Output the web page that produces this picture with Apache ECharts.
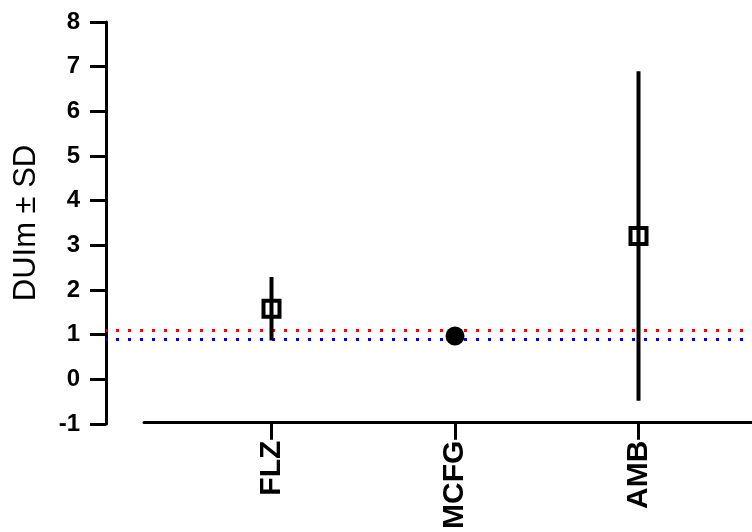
<!DOCTYPE html>
<html>
<head>
<meta charset="utf-8">
<script src="https://cdn.jsdelivr.net/npm/echarts@6/dist/echarts.min.js"></script>
<style>
html,body{margin:0;padding:0;background:#fff;}
#chart{width:752px;height:532px;}
</style>
</head>
<body>
<div id="chart"></div>
<script>
const categories = ['FLZ', 'MCFG', 'AMB'];
const means = [1.58, 0.97, 3.21];
const sds = [0.71, 0, 3.69];
const markerSymbols = ['rect', 'circle', 'rect'];
const markerFilled = [false, true, false];
const refUpper = 1.1;
const refLower = 0.9;
const yTicks = [-1, 0, 1, 2, 3, 4, 5, 6, 7, 8];

const positions = categories.map((c, i) => i + 1);
const FONT = '"Liberation Sans", Arial, sans-serif';

const chart = echarts.init(document.getElementById('chart'), null, {renderer: 'canvas'});

const option = {
  animation: false,
  backgroundColor: '#fff',
  grid: [
    {left: 106, right: 0, top: 22, bottom: 108, containLabel: false},
    {left: 144, right: 0, top: 22, bottom: 108, containLabel: false}
  ],
  xAxis: [
    {gridIndex: 0, type: 'value', min: 0.0981, max: 3.6185, show: false},
    {
      gridIndex: 1, type: 'value', min: 0.3052, max: 3.6185,
      splitLine: {show: false},
      axisLine: {show: true, onZero: false, lineStyle: {color: '#000', width: 3}},
      axisTick: {show: true, customValues: positions, length: 17, lineStyle: {color: '#000', width: 3}},
      axisLabel: {
        show: true, customValues: positions, rotate: 90, margin: 18,
        fontFamily: FONT, fontSize: 30, fontWeight: 'bold', color: '#000',
        formatter: v => categories[Math.round(v) - 1] || ''
      }
    }
  ],
  yAxis: [
    {
      gridIndex: 0, type: 'value', min: yTicks[0], max: yTicks[yTicks.length - 1], interval: 1,
      name: 'DUIm ± SD', nameLocation: 'middle', nameRotate: 90, nameGap: 64,
      nameTextStyle: {fontFamily: FONT, fontSize: 31, color: '#000'},
      splitLine: {show: false},
      axisLine: {show: true, lineStyle: {color: '#000', width: 3}},
      axisTick: {show: true, length: 16, lineStyle: {color: '#000', width: 3}},
      axisLabel: {margin: 26, fontFamily: FONT, fontSize: 24, fontWeight: 'bold', color: '#000'}
    },
    {gridIndex: 1, type: 'value', min: -1, max: 8, show: false}
  ],
  series: [
    {
      type: 'scatter', xAxisIndex: 0, yAxisIndex: 0, data: [], symbolSize: 0, z: 1,
      markLine: {
        silent: true, symbol: 'none', label: {show: false}, z: 1,
        lineStyle: {width: 3, type: [3, 9], dashOffset: 2},
        data: [
          {yAxis: refUpper, lineStyle: {color: '#ff0000'}},
          {yAxis: refLower, lineStyle: {color: '#0000ff'}}
        ]
      }
    },
    {
      type: 'custom', xAxisIndex: 0, yAxisIndex: 0, z: 8,
      data: positions.map((x, i) => [x, means[i], sds[i]]),
      renderItem: function (params, api) {
        const x = api.value(0), m = api.value(1), s = api.value(2);
        if (!s) return null;
        const top = api.coord([x, m + s]);
        const bot = api.coord([x, m - s]);
        return {
          type: 'line',
          shape: {x1: top[0], y1: top[1], x2: bot[0], y2: bot[1]},
          style: {stroke: '#000', lineWidth: 4}
        };
      }
    },
    {
      type: 'scatter', xAxisIndex: 0, yAxisIndex: 0, z: 10,
      data: positions.map((x, i) => ({
        value: [x, means[i]],
        symbol: markerSymbols[i],
        symbolSize: markerFilled[i] ? 19 : 16,
        itemStyle: markerFilled[i]
          ? {color: '#000', borderWidth: 0, opacity: 1}
          : {color: 'rgba(0,0,0,0)', borderColor: '#000', borderWidth: 4, opacity: 1}
      }))
    }
  ]
};
chart.setOption(option);
</script>
</body>
</html>
